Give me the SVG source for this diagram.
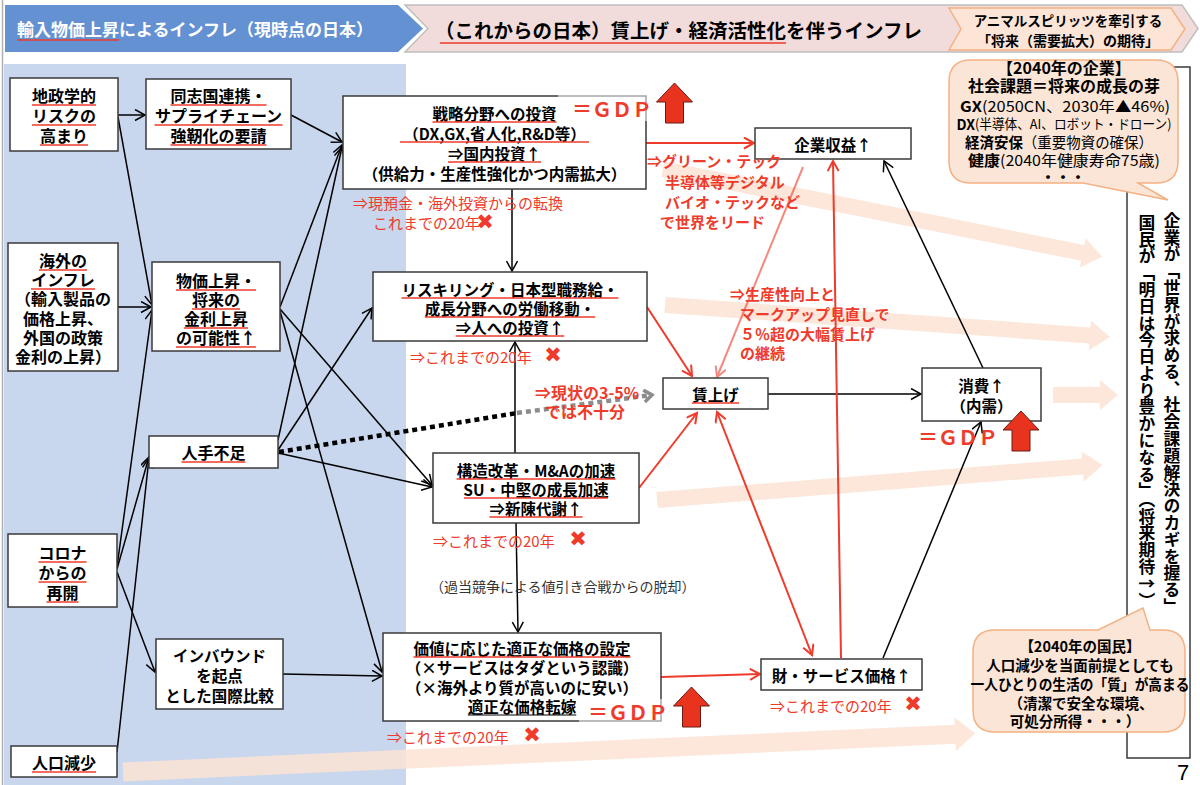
<svg xmlns="http://www.w3.org/2000/svg" width="1200" height="785" viewBox="0 0 1200 785">
<defs>
<style>
.f{font-family:"Noto Sans CJK JP","Noto Sans",sans-serif}
.c{text-anchor:middle;dominant-baseline:central}
.s{dominant-baseline:central}
.b{font-weight:700}
.n{fill:#fff;stroke:#3a3a3a;stroke-width:1.5}
.ul{stroke:#EE3B2B;stroke-width:1.4}
.ulk{stroke:#000;stroke-width:1.2}
.rt{fill:#EE3B2B;font-size:15px}
.x{fill:#EE3B2B;font-family:"DejaVu Sans",sans-serif;font-size:21px;font-weight:700;text-anchor:middle;dominant-baseline:central}
.gdp{fill:#EE3B2B;font-size:20px;font-weight:700;dominant-baseline:central}
.e{stroke:#000;stroke-width:1.5;fill:none;marker-end:url(#ah)}
.r{stroke:#EE3B2B;stroke-width:2;fill:none;marker-end:url(#ahr)}
.band{fill:#FBE3D3;opacity:0.85}
.call{fill:#FBE5D6;stroke:#F4B183;stroke-width:1.5}
</style>
<marker id="ah" markerUnits="userSpaceOnUse" markerWidth="14" markerHeight="14" refX="11" refY="6" orient="auto"><path d="M1,0.5 L11,6 L1,11.5" fill="none" stroke="#000" stroke-width="1.5"/></marker>
<marker id="ahr" markerUnits="userSpaceOnUse" markerWidth="14" markerHeight="14" refX="11" refY="6" orient="auto-start-reverse"><path d="M1,0.5 L11,6 L1,11.5" fill="none" stroke="#EE3B2B" stroke-width="2"/></marker>
<marker id="ahg" markerUnits="userSpaceOnUse" markerWidth="16" markerHeight="16" refX="10" refY="7" orient="auto"><path d="M2,1 L10,7 L2,13" fill="none" stroke="#8c8c8c" stroke-width="3.5"/></marker>
<path id="up" d="M0,0 L18,19 L9,19 L9,40 L-9,40 L-9,19 L-18,19 Z" fill="#E8331F" stroke="#6b1a12" stroke-width="1"/>
</defs>

<rect x="0" y="0" width="1200" height="785" fill="#fff"/>
<line x1="2.5" y1="0" x2="2.5" y2="785" stroke="#b0b0b0" stroke-width="1.5"/>

<!-- left panel -->
<rect x="4" y="64" width="402" height="721" fill="#C9D7EE"/>

<!-- headers -->
<g id="header-left">
<polygon points="5,5 398,5 423,28.5 398,52 5,52" fill="#6391D2"/>
<text class="f b s" x="17" y="28.5" font-size="17" fill="#fff">輸入物価上昇によるインフレ（現時点の日本）</text>
<line class="ul" x1="17" y1="40" x2="119" y2="40"/>
</g>
<g id="header-right">
<polygon points="405,5 1182,5 1198,28.5 1182,52 405,52 428,28.5" fill="#F2DCDB" stroke="#BFBFBF" stroke-width="1.5"/>
<text class="f b s" x="435" y="29.5" font-size="19.5" fill="#000">（これからの日本）賃上げ・経済活性化を伴うインフレ</text>
<line class="ul" x1="440" y1="43" x2="786" y2="43"/>
</g>
<g id="header-animal">
<polygon points="949,8 1171,8 1185,29 1171,50 949,50 961,29" fill="#FCE4D6" stroke="#F4B183" stroke-width="1.5"/>
<text class="f b c" x="1068" y="20" font-size="13.5">アニマルスピリッツを牽引する</text>
<text class="f b c" x="1068" y="40" font-size="14">「将来（需要拡大）の期待」</text>
</g>

<!-- wide background arrows -->
<g id="bands">
<path class="band" transform="translate(663,169) rotate(11.3)" d="M0,-8 L428,-8 L428,-15 L448,0 L428,15 L428,8 L0,8 Z"/>
<path class="band" transform="translate(665,305) rotate(4.1)" d="M0,-8 L426,-8 L426,-15 L446,0 L426,15 L426,8 L0,8 Z"/>
<path class="band" transform="translate(1053,395)" d="M0,-8 L47,-8 L47,-15 L65,0 L47,15 L47,8 L0,8 Z"/>
<path class="band" transform="translate(657,500) rotate(-4.5)" d="M0,-8 L427,-8 L427,-15 L447,0 L427,15 L427,8 L0,8 Z"/>
<path class="band" transform="translate(123,772) rotate(-2.6)" d="M0,-9.5 L833,-9.5 L833,-17 L853,0 L833,17 L833,9.5 L0,9.5 Z"/>
</g>

<!-- right vertical panel -->
<g id="future">
<rect class="n" x="1127" y="67" width="63" height="691"/>
<text class="f b" x="1172" y="212" font-size="16.8" style="writing-mode:vertical-rl">企業が「世界が求める、社会課題解決のカギを握る」</text>
<text class="f b" x="1147" y="214" font-size="16.8" style="writing-mode:vertical-rl">国民が「明日は今日より豊かになる」（将来期待↑）</text>
</g>

<!-- connectors -->
<g id="connectors">
<path class="e" d="M118,115 L145,115"/>
<path class="e" d="M118,117 L152,305"/>
<path class="e" d="M118,307 L151,307"/>
<path class="e" d="M117,567 L152,310"/>
<path class="e" d="M117,569 L149,457"/>
<path class="e" d="M117,752 L149,458"/>
<path class="e" d="M117,572 L155,672"/>
<path class="e" d="M291,115 L342,142"/>
<path class="e" d="M280,307 L342,145"/>
<path class="e" d="M278,440 L342,147"/>
<path class="e" d="M278,450 L372,308"/>
<path class="e" d="M278,453 L432,487"/>
<path class="e" d="M280,309 L432,485"/>
<path class="e" d="M280,311 L382,672"/>
<path class="e" d="M283,674 L382,676"/>
<path class="e" d="M512,189 L512,271"/>
<path class="e" d="M515,453 L515,342"/>
<path class="e" d="M516,523 L518,632"/>
<path class="e" d="M768,394 L921,394"/>
<path class="e" d="M883,658 L981,422"/>
<path class="e" d="M983,368 L884,161"/>
<path class="r" d="M646,143 L754,143"/>
<path class="r" d="M647,307 L692,376"/>
<path class="r" d="M639,488 L697,413"/>
<path class="r" d="M717,412 L812,655" marker-start="url(#ahr)"/>
<path class="r" d="M841,658 L833,161"/>
<path class="r" d="M803,167 L717,377" opacity="0.6"/>
<path class="r" d="M661,677 L760,674"/>
<path d="M279,452 L517,413" stroke="#000" stroke-width="4.5" stroke-dasharray="5 4" fill="none"/>
<path d="M517,413 L652,395" stroke="#8c8c8c" stroke-width="4.5" stroke-dasharray="5 4" fill="none" marker-end="url(#ahg)"/>
</g>

<!-- left nodes -->
<g id="n-geopolitics">
<rect class="n" x="10" y="78" width="108" height="73"/>
<g class="f b c" font-size="16"><text x="64" y="95">地政学的</text><text x="64" y="115">リスクの</text><text x="64" y="135">高まり</text></g>
<line class="ul" x1="32" y1="105" x2="96" y2="105"/><line class="ul" x1="32" y1="125" x2="96" y2="125"/><line class="ul" x1="40" y1="145" x2="88" y2="145"/>
</g>
<g id="n-supply">
<rect class="n" x="146" y="79" width="145" height="70"/>
<g class="f b c" font-size="16"><text x="218.5" y="95">同志国連携・</text><text x="218.5" y="115">サプライチェーン</text><text x="218.5" y="135">強靭化の要請</text></g>
<line class="ul" x1="170.5" y1="105" x2="266.5" y2="105"/><line class="ul" x1="154.5" y1="125" x2="282.5" y2="125"/><line class="ul" x1="170.5" y1="145" x2="266.5" y2="145"/>
</g>
<g id="n-overseas">
<rect class="n" x="8" y="243" width="110" height="128"/>
<g class="f b c" font-size="16"><text x="63" y="260">海外の</text><text x="63" y="279">インフレ</text><text x="63" y="298">（輸入製品の</text><text x="63" y="318">価格上昇、</text><text x="63" y="337">外国の政策</text><text x="63" y="356">金利の上昇）</text></g>
<line class="ul" x1="39" y1="270" x2="87" y2="270"/><line class="ul" x1="31" y1="289" x2="95" y2="289"/>
</g>
<g id="n-price">
<rect class="n" x="152" y="262" width="128" height="89"/>
<g class="f b c" font-size="16"><text x="216" y="280">物価上昇・</text><text x="216" y="299">将来の</text><text x="216" y="318">金利上昇</text><text x="216" y="337">の可能性↑</text></g>
<line class="ul" x1="176" y1="290" x2="256" y2="290"/><line class="ul" x1="192" y1="309" x2="240" y2="309"/><line class="ul" x1="184" y1="328" x2="248" y2="328"/><line class="ul" x1="176" y1="347" x2="256" y2="347"/>
</g>
<g id="n-labor">
<rect class="n" x="149" y="436" width="129" height="32"/>
<text class="f b c" x="213.5" y="452" font-size="16">人手不足</text>
<line class="ul" x1="181.5" y1="462" x2="245.5" y2="462"/>
</g>
<g id="n-covid">
<rect class="n" x="8" y="534" width="109" height="73"/>
<g class="f b c" font-size="16"><text x="62.5" y="552">コロナ</text><text x="62.5" y="572">からの</text><text x="62.5" y="592">再開</text></g>
<line class="ul" x1="38.5" y1="562" x2="86.5" y2="562"/><line class="ul" x1="38.5" y1="582" x2="86.5" y2="582"/><line class="ul" x1="46.5" y1="602" x2="78.5" y2="602"/>
</g>
<g id="n-inbound">
<rect class="n" x="156" y="639" width="127" height="70"/>
<g class="f b c" font-size="15.5"><text x="219.5" y="655">インバウンド</text><text x="219.5" y="675">を起点</text><text x="219.5" y="695">とした国際比較</text></g>
</g>
<g id="n-population">
<rect class="n" x="11" y="746" width="106" height="31"/>
<text class="f b c" x="64" y="762" font-size="16">人口減少</text>
<line class="ul" x1="32" y1="772" x2="96" y2="772"/>
</g>

<!-- middle nodes -->
<g id="n-strategy">
<rect class="n" x="343" y="96" width="303" height="93"/>
<g class="f b c" font-size="15.5"><text x="494.5" y="113">戦略分野への投資</text><text x="494.5" y="133">（DX,GX,省人化,R&amp;D等）</text><text x="494.5" y="153">⇒国内投資↑</text><text x="494.5" y="173">（供給力・生産性強化かつ内需拡大）</text></g>
<line class="ul" x1="432.5" y1="122" x2="556.5" y2="122"/><line class="ul" x1="400" y1="142" x2="589" y2="142"/><line class="ul" x1="448" y1="162" x2="541" y2="162"/>
<rect x="558" y="95" width="93" height="26" fill="#fff" opacity="0.55"/>
<text class="f gdp" x="572" y="108">＝ＧＤＰ</text>
<use href="#up" x="674.5" y="83"/>
<text class="f rt s" x="353" y="202">⇒現預金・海外投資からの転換</text>
<text class="f rt s" x="373" y="222">これまでの20年</text><text class="x" x="485" y="222">✖</text>
</g>
<g id="n-reskilling">
<rect class="n" x="373" y="272" width="274" height="69"/>
<g class="f b c" font-size="15.5"><text x="510" y="289">リスキリング・日本型職務給・</text><text x="510" y="308">成長分野への労働移動・</text><text x="510" y="327">⇒人への投資↑</text></g>
<line class="ul" x1="401.5" y1="298" x2="618.5" y2="298"/><line class="ul" x1="424.75" y1="317" x2="595.25" y2="317"/><line class="ul" x1="455.75" y1="336" x2="564.25" y2="336"/>
<text class="f rt s" x="410" y="356" font-size="15.5">⇒これまでの20年</text><text class="x" x="553" y="355">✖</text>
</g>
<g id="n-reform">
<rect class="n" x="433" y="453" width="206" height="70"/>
<g class="f b c" font-size="15.5"><text x="536" y="470">構造改革・M&amp;Aの加速</text><text x="536" y="489">SU・中堅の成長加速</text><text x="536" y="508">⇒新陳代謝↑</text></g>
<line class="ul" x1="456.5" y1="479" x2="615.5" y2="479"/><line class="ul" x1="464" y1="498" x2="608" y2="498"/><line class="ul" x1="489.5" y1="517" x2="582.5" y2="517"/>
<text class="f rt s" x="433" y="540" font-size="15.5">⇒これまでの20年</text><text class="x" x="578" y="539">✖</text>
<text class="f s" x="430" y="586" font-size="14" fill="#333">（過当競争による値引き合戦からの脱却）</text>
</g>
<g id="n-value">
<rect class="n" x="383" y="633" width="278" height="88"/>
<g class="f b c" font-size="15.5"><text x="522" y="648">価値に応じた適正な価格の設定</text><text x="522" y="667">（×サービスはタダという認識）</text><text x="522" y="687">（×海外より質が高いのに安い）</text><text x="522" y="706">適正な価格転嫁</text></g>
<line class="ul" x1="413.5" y1="657" x2="630.5" y2="657"/><line class="ulk" x1="467.75" y1="715" x2="576.25" y2="715"/>
<rect x="579" y="699" width="88" height="25" fill="#fff" opacity="0.55"/>
<text class="f gdp" x="588" y="711">＝ＧＤＰ</text>
<use href="#up" x="691.5" y="687"/>
<text class="f rt s" x="387" y="736" font-size="15.5">⇒これまでの20年</text><text class="x" x="532" y="735">✖</text>
</g>

<!-- right side nodes -->
<g id="n-profit">
<rect class="n" x="755" y="128" width="156" height="31"/>
<text class="f b c" x="833" y="144" font-size="15.5">企業収益↑</text>
</g>
<g id="n-wage">
<rect class="n" x="663" y="378" width="105" height="31"/>
<text class="f b c" x="715.5" y="394" font-size="15.5">賃上げ</text>
<line class="ul" x1="692" y1="403" x2="739" y2="403"/>
</g>
<g id="n-consumption">
<rect class="n" x="922" y="368" width="119" height="53"/>
<g class="f b c" font-size="15.5"><text x="981.5" y="385">消費↑</text><text x="981.5" y="405">（内需）</text></g>
<use href="#up" x="1021" y="411"/>
<text class="f gdp" x="918" y="436">＝ＧＤＰ</text>
</g>
<g id="n-goods">
<rect class="n" x="761" y="659" width="161" height="31"/>
<text class="f b c" x="841.5" y="675" font-size="15.5">財・サービス価格↑</text>
<text class="f rt s" x="770" y="705" font-size="15.5">⇒これまでの20年</text><text class="x" x="913" y="704">✖</text>
</g>

<!-- red annotations -->
<g id="notes" class="f b s" fill="#EE3B2B" font-size="15">
<text x="647" y="160">⇒グリーン・テック</text>
<text x="665" y="181">半導体等デジタル</text>
<text x="665" y="201">バイオ・テックなど</text>
<text x="660" y="221">で世界をリード</text>
<text x="730" y="293">⇒生産性向上と</text>
<text x="740" y="313">マークアップ見直しで</text>
<text x="740" y="333">５％超の大幅賃上げ</text>
<text x="740" y="352">の継続</text>
<text x="535" y="392" font-size="16">⇒現状の3-5%</text>
<text x="545" y="411" font-size="16">では不十分</text>
</g>

<!-- callouts -->
<g id="callout-company">
<path class="call" d="M971,60 H1156 Q1178,60 1178,82 V161 Q1178,183 1156,183 H1138 L1168,200 L1083,183 H971 Q949,183 949,161 V82 Q949,60 971,60 Z"/>
<g class="f c" font-size="15">
<text class="b" x="1064" y="67" font-size="16">【2040年の企業】</text>
<text class="b" x="1064" y="85" font-size="16" textLength="192" lengthAdjust="spacingAndGlyphs">社会課題＝将来の成長の芽</text>
<text x="1065" y="105" textLength="210" lengthAdjust="spacingAndGlyphs"><tspan font-weight="700">GX</tspan>(2050CN、2030年▲46%)</text>
<text x="1064" y="123" font-size="13.5" textLength="215" lengthAdjust="spacingAndGlyphs"><tspan font-weight="700" font-size="15">DX</tspan>(半導体、AI、ロボット・ドローン)</text>
<text x="1059" y="141" textLength="188" lengthAdjust="spacingAndGlyphs"><tspan font-weight="700">経済安保</tspan>（重要物資の確保）</text>
<text x="1064" y="159" textLength="192" lengthAdjust="spacingAndGlyphs"><tspan font-weight="700">健康</tspan>(2040年健康寿命75歳)</text>
<text class="b" x="1063" y="176">・・・</text>
</g>
</g>
<g id="callout-people">
<path class="call" d="M995,630 H1098 L1143,608 L1150,630 H1163 Q1185,630 1185,652 V710 Q1185,732 1163,732 H995 Q973,732 973,710 V652 Q973,630 995,630 Z"/>
<g class="f b c" font-size="14.5">
<text x="1080" y="645">【2040年の国民】</text>
<text x="1080" y="664">人口減少を当面前提としても</text>
<text x="1080" y="683" textLength="219" lengthAdjust="spacingAndGlyphs">一人ひとりの生活の「質」が高まる</text>
<text x="1081" y="702">（清潔で安全な環境、</text>
<text x="1075" y="720">可処分所得・・・）</text>
</g>
</g>

<text x="1183" y="772" font-family="Liberation Sans, sans-serif" font-size="22" text-anchor="middle" dominant-baseline="central">7</text>
</svg>
